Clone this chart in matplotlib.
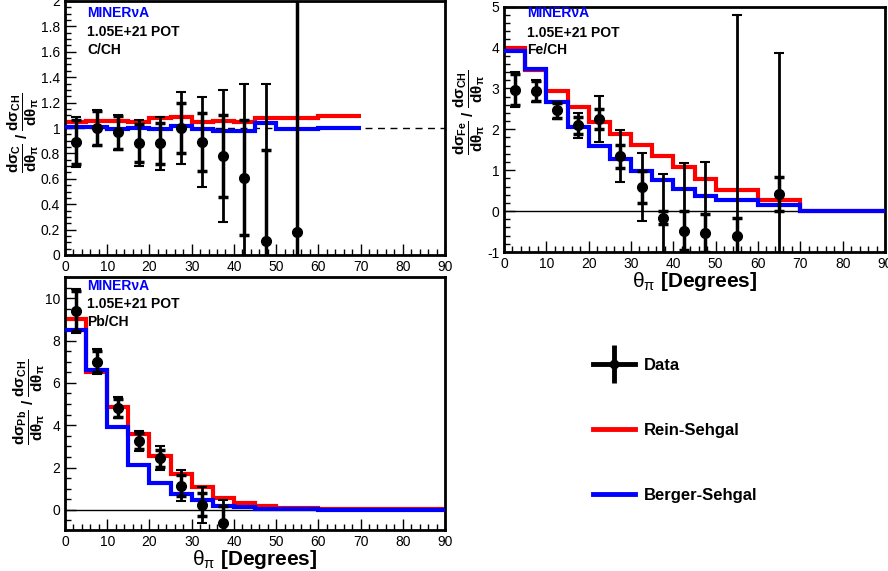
import matplotlib
matplotlib.use("Agg")
import matplotlib.pyplot as plt
from matplotlib.lines import Line2D
from matplotlib.ticker import AutoMinorLocator, MultipleLocator, FuncFormatter
import numpy as np

plt.rcParams['font.family'] = ['Liberation Sans', 'DejaVu Sans']
plt.rcParams['mathtext.fontset'] = 'custom'
plt.rcParams['mathtext.rm'] = 'Liberation Sans'
plt.rcParams['mathtext.it'] = 'Liberation Sans:italic'
plt.rcParams['mathtext.bf'] = 'Liberation Sans:bold'

# ---- data ----
# C/CH
c_edges = [0, 5, 10, 15, 20, 25, 30, 35, 40, 45, 50, 60, 70]
c_rein = [1.045, 1.057, 1.057, 1.045, 1.076, 1.084, 1.045, 1.057, 1.05, 1.076, 1.076, 1.092]
c_berger = [1.01, 1.01, 0.992, 1.0, 0.992, 1.018, 0.99, 0.974, 0.974, 1.04, 0.992, 1.0]
c_x = [2.5, 7.5, 12.5, 17.5, 22.5, 27.5, 32.5, 37.5, 42.5, 47.5, 55]
c_y = [0.89, 1.0, 0.965, 0.88, 0.88, 1.0, 0.89, 0.78, 0.61, 0.11, 0.18]
c_stat = [0.175, 0.13, 0.13, 0.15, 0.16, 0.195, 0.23, 0.325, 0.45, 0.72, 2.5]
c_tot = [0.2, 0.145, 0.135, 0.18, 0.21, 0.285, 0.355, 0.52, 0.735, 1.24, 3.0]

# Fe/CH
fe_edges = [0, 5, 10, 15, 20, 25, 30, 35, 40, 45, 50, 60, 70, 90]
fe_rein = [3.99, 3.45, 2.94, 2.55, 2.18, 1.88, 1.61, 1.35, 1.08, 0.78, 0.51, 0.26, 0.0]
fe_berger = [3.92, 3.47, 2.67, 2.06, 1.59, 1.27, 0.98, 0.75, 0.55, 0.37, 0.26, 0.14, 0.0]
fe_x = [2.5, 7.5, 12.5, 17.5, 22.5, 27.5, 32.5, 37.5, 42.5, 47.5, 55, 65]
fe_y = [2.97, 2.94, 2.46, 2.1, 2.25, 1.34, 0.59, -0.16, -0.48, -0.53, -0.61, 0.41]
fe_stat = [0.38, 0.24, 0.19, 0.21, 0.235, 0.285, 0.39, 0.15, 0.48, 0.47, 0.44, 0.42]
fe_tot = [0.42, 0.27, 0.21, 0.305, 0.56, 0.63, 0.84, 1.06, 1.65, 1.73, 5.4, 3.46]

# Pb/CH
pb_edges = [0, 5, 10, 15, 20, 25, 30, 35, 40, 45, 50, 60, 70, 90]
pb_rein = [9.0, 6.52, 4.86, 3.58, 2.55, 1.68, 1.07, 0.55, 0.31, 0.16, 0.08, 0.03, 0.02]
pb_berger = [8.52, 6.63, 3.9, 2.12, 1.29, 0.75, 0.47, 0.19, 0.12, 0.03, 0.02, 0.01, 0.01]
pb_x = [2.5, 7.5, 12.5, 17.5, 22.5, 27.5, 32.5, 37.5]
pb_y = [9.4, 7.0, 4.83, 3.25, 2.44, 1.15, 0.24, -0.6]
pb_stat = [0.95, 0.5, 0.42, 0.37, 0.4, 0.51, 0.55, 0.76]
pb_tot = [1.05, 0.6, 0.48, 0.49, 0.57, 0.73, 0.86, 1.07]

W, H = 888, 571
fig = plt.figure(figsize=(W / 100, H / 100), dpi=100)

gfmt = FuncFormatter(lambda v, p: '%g' % (0 if abs(v) < 1e-9 else round(v, 6)))


def px_axes(left, top, right, bottom):
    return fig.add_axes([left / W, 1 - bottom / H, (right - left) / W, (bottom - top) / H])


def style(ax, ylim, ymaj, yminor_n):
    ax.set_xlim(0, 90)
    ax.set_ylim(*ylim)
    ax.xaxis.set_major_locator(MultipleLocator(10))
    ax.xaxis.set_minor_locator(AutoMinorLocator(5))
    ax.yaxis.set_major_locator(MultipleLocator(ymaj))
    ax.yaxis.set_minor_locator(AutoMinorLocator(yminor_n))
    ax.xaxis.set_major_formatter(gfmt)
    ax.yaxis.set_major_formatter(gfmt)
    ax.tick_params(which='both', direction='in', top=False, right=False,
                   labelsize=10, width=1)
    ax.tick_params(which='major', length=8)
    ax.tick_params(which='minor', length=4)
    for s in ax.spines.values():
        s.set_linewidth(2)


def draw(ax, edges, rein, berger, x, y, stat, tot):
    ax.stairs(rein, edges, baseline=None, color='#ff0000', lw=3, zorder=2)
    ax.stairs(berger, edges, baseline=None, color='#0000ff', lw=3, zorder=3)
    ax.errorbar(x, y, yerr=tot, fmt='none', ecolor='k', elinewidth=2,
                capsize=3.5, capthick=1.5, zorder=4)
    ax.errorbar(x, y, yerr=stat, fmt='o', color='k', ms=7, elinewidth=2.5,
                capsize=3.5, capthick=2.5, zorder=5)


def tag(ax, x, ys, target):
    ax.text(x, ys[0], 'MINERνA', color='#0000ff', fontsize=10, fontweight='bold',
            transform=ax.transAxes, va='center')
    ax.text(x, ys[1], '1.05E+21 POT', color='k', fontsize=10, fontweight='bold',
            transform=ax.transAxes, va='center')
    ax.text(x, ys[2], target, color='k', fontsize=10, fontweight='bold',
            transform=ax.transAxes, va='center')


def ylab(nuc):
    return (r'$\mathbf{\dfrac{d\sigma_{%s}}{d\theta_{\pi}}}$ $\mathbf{/}$ '
            r'$\mathbf{\dfrac{d\sigma_{CH}}{d\theta_{\pi}}}$' % nuc)


xlab = r'$\mathrm{\theta_{\pi}}$ [Degrees]'

# C/CH
ax1 = px_axes(65, 1, 445, 255)
style(ax1, (0, 2), 0.2, 4)
ax1.axhline(1, color='k', ls=(0, (5, 4)), lw=1, zorder=1)
draw(ax1, c_edges, c_rein, c_berger, c_x, c_y, c_stat, c_tot)
tag(ax1, 0.058, (0.953, 0.877, 0.806), 'C/CH')
ax1.set_ylabel(ylab('C'), fontsize=11)
ax1.yaxis.set_label_coords(-0.062, 0.482)

# Fe/CH
ax2 = px_axes(504, 6.5, 885, 252)
style(ax2, (-1, 5), 1, 5)
ax2.axhline(0, color='k', lw=1, zorder=1)
draw(ax2, fe_edges, fe_rein, fe_berger, fe_x, fe_y, fe_stat, fe_tot)
tag(ax2, 0.06, (0.973, 0.892, 0.823), 'Fe/CH')
ax2.set_ylabel(ylab('Fe'), fontsize=11)
ax2.yaxis.set_label_coords(-0.045, 0.57)
ax2.set_xlabel(xlab, fontsize=15, fontweight='bold')
ax2.xaxis.set_label_coords(0.5, -0.075)

# Pb/CH
ax3 = px_axes(65, 277, 445, 530)
style(ax3, (-0.95, 11), 2, 4)
ax3.axhline(0, color='k', lw=1, zorder=1)
draw(ax3, pb_edges, pb_rein, pb_berger, pb_x, pb_y, pb_stat, pb_tot)
tag(ax3, 0.058, (0.964, 0.893, 0.822), 'Pb/CH')
ax3.set_ylabel(ylab('Pb'), fontsize=11)
ax3.yaxis.set_label_coords(-0.048, 0.506)
ax3.set_xlabel(xlab, fontsize=15, fontweight='bold')
ax3.xaxis.set_label_coords(0.5, -0.072)

# legend
data_h = (Line2D([], [], color='k', lw=3.5, marker='o', ms=6),
          Line2D([], [], color='k', ls='none', marker='|', ms=27, mew=3.5))
rein_h = Line2D([], [], color='#ff0000', lw=3.5)
berger_h = Line2D([], [], color='#0000ff', lw=3.5)
fig.legend([data_h, rein_h, berger_h], ['Data', 'Rein-Sehgal', 'Berger-Sehgal'],
           loc='upper left', bbox_to_anchor=(593 / W, 1 - 358 / H), frameon=False,
           prop={'weight': 'bold', 'size': 12}, handlelength=2.5,
           labelspacing=3.0, handletextpad=0.55, borderpad=0, borderaxespad=0)

fig.savefig('out.png', dpi=100)
